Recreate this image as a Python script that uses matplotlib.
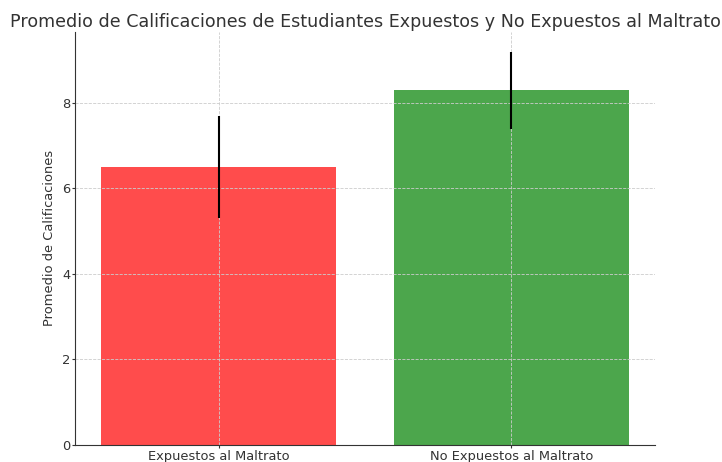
import matplotlib
matplotlib.use("Agg")
import matplotlib.pyplot as plt

categories = ["Expuestos al Maltrato", "No Expuestos al Maltrato"]
means = [6.5, 8.3]
errors = [1.2, 0.9]
colors = ["red", "green"]

fig = plt.figure(figsize=(7.22, 4.62), dpi=100)
ax = fig.add_axes([0.104, 0.037, 0.803, 0.894])
ax.bar(categories, means, yerr=errors, color=colors, alpha=0.7, width=0.8,
       error_kw=dict(ecolor="black", elinewidth=1.5))
ax.set_title("Promedio de Calificaciones de Estudiantes Expuestos y No Expuestos al Maltrato",
             fontsize=12.6, color="#333333", pad=3.6)
ax.set_ylabel("Promedio de Calificaciones", color="#333333", fontsize=9.4, labelpad=4)
ax.grid(True, linestyle="--", color="#cccccc", linewidth=0.6)
ax.spines["top"].set_visible(False)
ax.spines["right"].set_visible(False)
for s in ["left", "bottom"]:
    ax.spines[s].set_color("#333333")
ax.tick_params(colors="#333333", labelsize=9.4, length=2.5, pad=1)
fig.savefig("out.png", dpi=100)
